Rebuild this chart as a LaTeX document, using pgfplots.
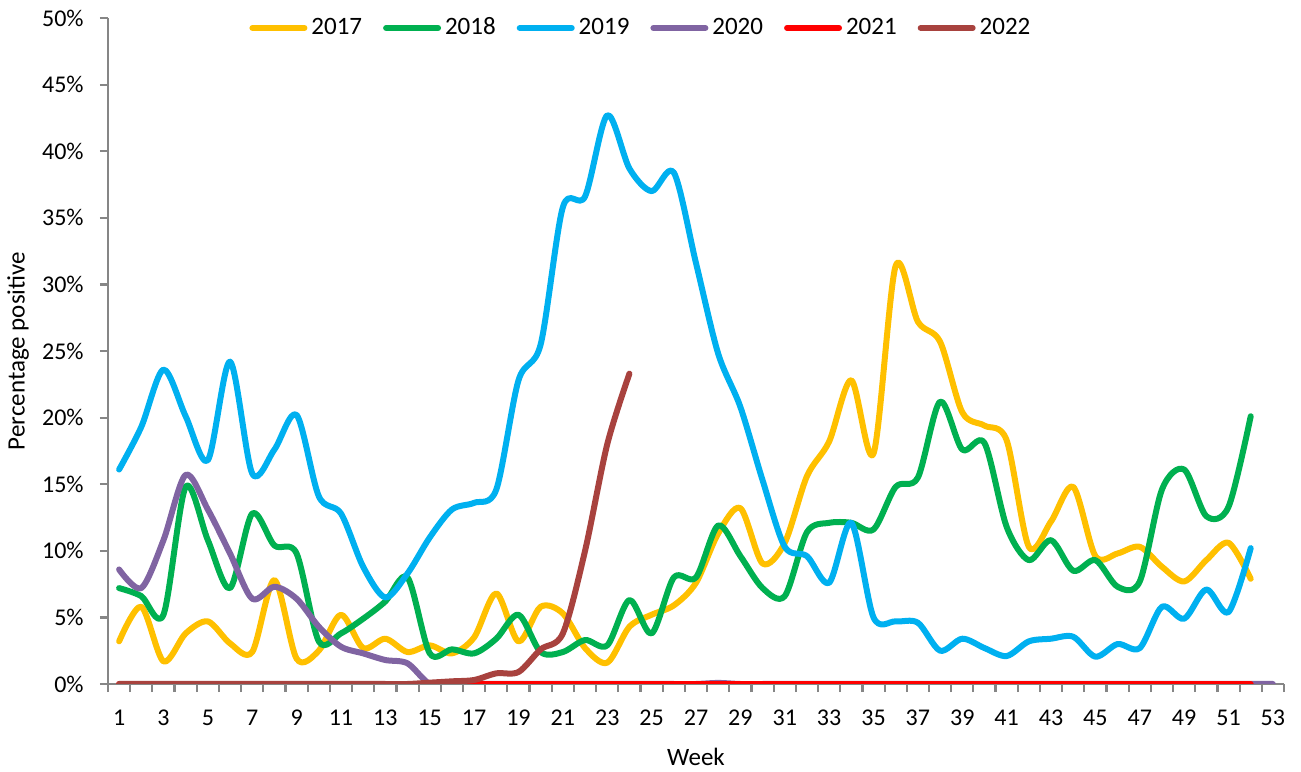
\documentclass[border=0pt]{standalone}
\usepackage{fontspec}
\setmainfont{Carlito}
\usepackage{pgfplots}
\pgfplotsset{compat=1.18}
\definecolor{c17}{RGB}{255,192,0}
\definecolor{c18}{RGB}{0,176,80}
\definecolor{c19}{RGB}{0,176,240}
\definecolor{c20}{RGB}{128,100,162}
\definecolor{c21}{RGB}{255,0,0}
\definecolor{c22}{RGB}{168,66,62}
\definecolor{axisgray}{RGB}{134,134,134}
\begin{document}
\fontsize{12bp}{14bp}\selectfont
\begin{tikzpicture}
\useasboundingbox (0,0) rectangle (650.5bp,386bp);
\begin{axis}[
  at={(54bp,44bp)}, anchor=south west,
  width=588bp, height=333bp, scale only axis,
  xmin=0.5, xmax=53.5, ymin=0, ymax=50,
  axis x line*=bottom, axis y line*=left,
  axis line style={draw=axisgray, line width=1.1bp},
  tick style={draw=axisgray, line width=1.1bp},
  tick align=outside,
  major tick length=4bp,
  xtick={0.5,1.5,...,53.5}, xticklabels={},
  extra x ticks={1,3,...,53},
  extra x tick style={major tick length=0pt, xticklabel style={yshift=-9bp}},
  ytick={0,5,...,50},
  yticklabels={0\%,5\%,10\%,15\%,20\%,25\%,30\%,35\%,40\%,45\%,50\%},
  yticklabel style={xshift=-4bp},
  /pgf/number format/assume math mode=true,
  ticklabel style={font=\fontsize{12bp}{14bp}\selectfont},
  xlabel={Week}, ylabel={Percentage positive},
  every axis x label/.style={at={(axis description cs:0.5,0)}, anchor=center, yshift=-36.5bp, font=\fontsize{12.5bp}{15bp}\selectfont},
  every axis y label/.style={at={(axis description cs:-0.0765,0.5)}, anchor=center, rotate=90, font=\fontsize{12.5bp}{15bp}\selectfont},
  legend columns=6,
  legend style={draw=none, fill=none, at={(0.454,0.985)}, anchor=center, inner sep=0pt,
    font=\fontsize{12.5bp}{15bp}\selectfont,
    /tikz/every even column/.append style={column sep=8.5bp}},
  legend image code/.code={\draw[#1, line width=3bp] (0bp,0bp) -- (26bp,0bp);},
  every axis plot/.append style={line width=3bp, smooth, tension=0.5, line cap=round, line join=round, no markers},
]
\addplot[c17] coordinates {(1,3.2)(2,5.8)(3,1.7)(4,3.8)(5,4.7)(6,3.05)(7,2.4)(8,7.8)(9,1.9)(10,2.5)(11,5.2)(12,2.7)(13,3.4)(14,2.4)(15,2.9)(16,2.3)(17,3.5)(18,6.8)(19,3.2)(20,5.8)(21,5.3)(22,2.7)(23,1.6)(24,4.3)(25,5.2)(26,5.9)(27,7.6)(28,11.3)(29,13.2)(30,9.05)(31,10.6)(32,15.6)(33,18.2)(34,22.8)(35,17.3)(36,31.4)(37,27.2)(38,25.7)(39,20.4)(40,19.4)(41,18.3)(42,10.3)(43,12.2)(44,14.8)(45,9.6)(46,9.8)(47,10.3)(48,8.8)(49,7.7)(50,9.3)(51,10.6)(52,7.9)};
\addlegendentry{2017}
\addplot[c18] coordinates {(1,7.2)(2,6.6)(3,5.2)(4,14.8)(5,10.8)(6,7.2)(7,12.8)(8,10.4)(9,9.8)(10,3.2)(11,3.8)(12,4.9)(13,6.2)(14,8.0)(15,2.3)(16,2.6)(17,2.3)(18,3.4)(19,5.2)(20,2.4)(21,2.4)(22,3.3)(23,2.9)(24,6.3)(25,3.8)(26,8.0)(27,8.0)(28,11.9)(29,9.6)(30,7.2)(31,6.6)(32,11.4)(33,12.1)(34,12.1)(35,11.6)(36,14.8)(37,15.5)(38,21.2)(39,17.6)(40,18.1)(41,11.8)(42,9.3)(43,10.8)(44,8.5)(45,9.3)(46,7.3)(47,7.7)(48,14.6)(49,16.1)(50,12.6)(51,13.3)(52,20.1)};
\addlegendentry{2018}
\addplot[c19] coordinates {(1,16.1)(2,19.3)(3,23.6)(4,20.1)(5,16.8)(6,24.2)(7,15.8)(8,17.6)(9,20.2)(10,14.1)(11,12.8)(12,8.8)(13,6.5)(14,8.3)(15,11.0)(16,13.1)(17,13.6)(18,14.6)(19,22.8)(20,25.5)(21,35.8)(22,36.6)(23,42.7)(24,38.7)(25,37.0)(26,38.4)(27,31.6)(28,24.8)(29,20.8)(30,15.3)(31,10.3)(32,9.6)(33,7.6)(34,12.1)(35,5.0)(36,4.7)(37,4.6)(38,2.5)(39,3.4)(40,2.7)(41,2.1)(42,3.2)(43,3.4)(44,3.55)(45,2.05)(46,3.0)(47,2.7)(48,5.8)(49,4.9)(50,7.1)(51,5.4)(52,10.2)};
\addlegendentry{2019}
\addplot[c20] coordinates {(1,8.6)(2,7.2)(3,10.8)(4,15.7)(5,13.1)(6,9.8)(7,6.4)(8,7.3)(9,6.4)(10,4.3)(11,2.8)(12,2.3)(13,1.8)(14,1.55)(15,0)(16,0)(17,0)(18,0)(19,0)(20,0)(21,0)(22,0)(23,0)(24,0)(25,0)(26,0)(27,0)(28,0.08)(29,0)(30,0)(31,0)(32,0)(33,0)(34,0)(35,0)(36,0)(37,0)(38,0)(39,0)(40,0)(41,0)(42,0)(43,0)(44,0)(45,0)(46,0)(47,0)(48,0)(49,0)(50,0)(51,0)(52,0)(53,0)};
\addlegendentry{2020}
\addplot[c21] coordinates {(1,0)(2,0)(3,0)(4,0)(5,0)(6,0)(7,0)(8,0)(9,0)(10,0)(11,0)(12,0)(13,0)(14,0)(15,0)(16,0)(17,0)(18,0)(19,0)(20,0)(21,0)(22,0)(23,0)(24,0)(25,0)(26,0)(27,0)(28,0)(29,0)(30,0)(31,0)(32,0)(33,0)(34,0)(35,0)(36,0)(37,0)(38,0)(39,0)(40,0)(41,0)(42,0)(43,0)(44,0)(45,0)(46,0)(47,0)(48,0)(49,0)(50,0)(51,0)(52,0)};
\addlegendentry{2021}
\addplot[c22] coordinates {(1,0)(2,0)(3,0)(4,0)(5,0)(6,0)(7,0)(8,0)(9,0)(10,0)(11,0)(12,0)(13,0)(14,0)(15,0.1)(16,0.2)(17,0.3)(18,0.8)(19,0.9)(20,2.6)(21,3.8)(22,10.0)(23,18.0)(24,23.3)};
\addlegendentry{2022}
\end{axis}
\end{tikzpicture}
\end{document}
